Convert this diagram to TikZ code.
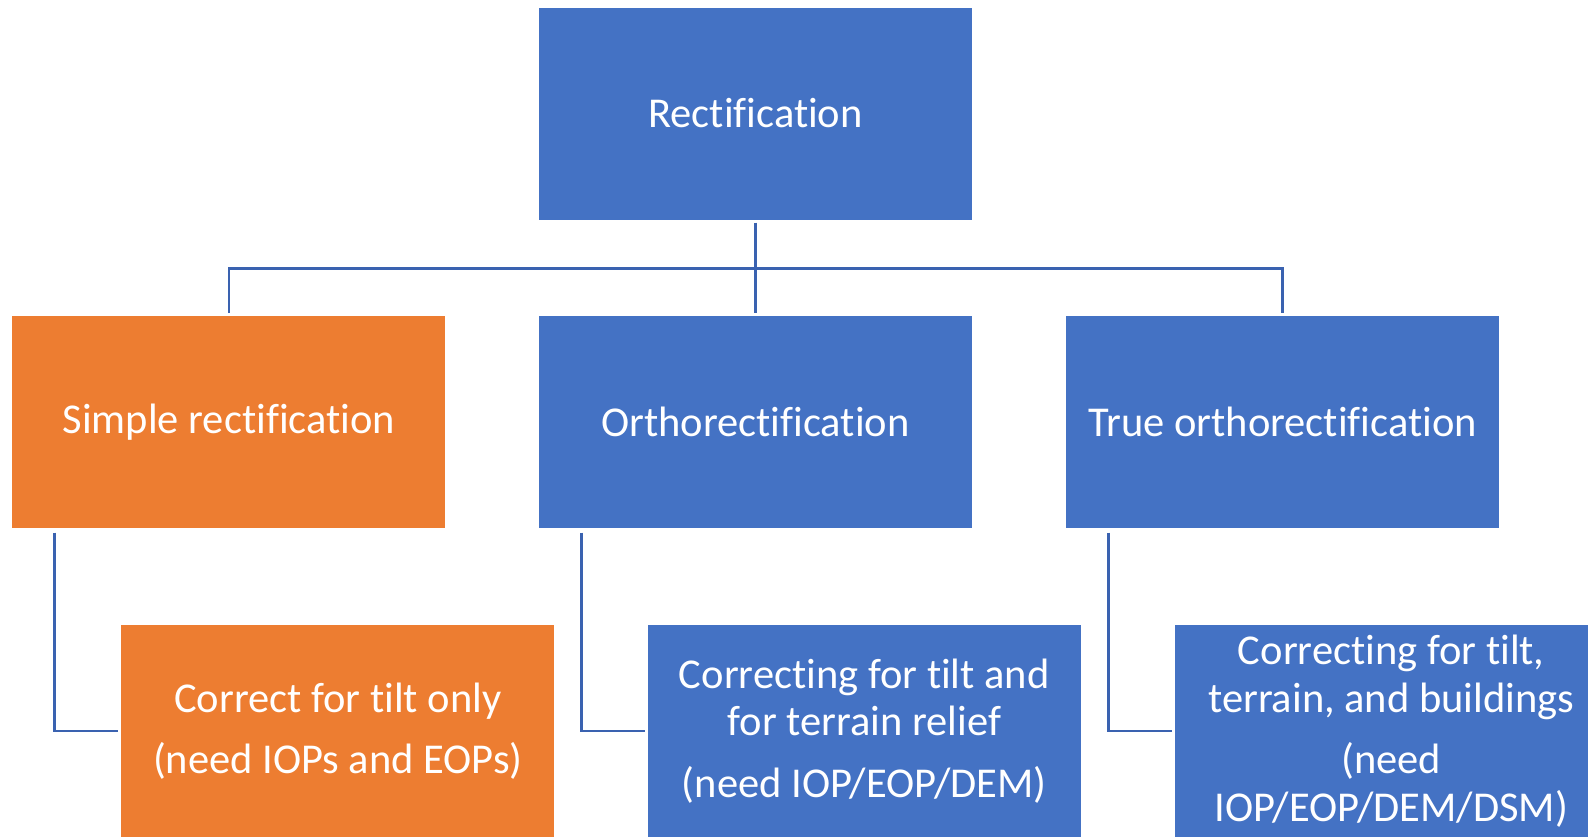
\documentclass[tikz,border=0pt]{standalone}
\usepackage{fontspec}
\setmainfont{Carlito}[Ligatures=NoCommon]
\usetikzlibrary{calc}
\definecolor{boxblue}{HTML}{4472C4}
\definecolor{boxorange}{HTML}{ED7D31}
\definecolor{lineblue}{HTML}{3A62B0}

\begin{document}
\begin{tikzpicture}[x=1pt,y=-1pt,
  box/.style={rectangle,fill=#1,text=white,align=center,inner sep=0pt,
    minimum width=433pt,minimum height=212pt,font=\fontsize{42.5}{47.5}\selectfont},
  conn/.style={draw=lineblue,line width=2.6pt}]
\clip (0,0) rectangle (1588,836);
% top
\node[box=boxblue] (rect) at (755.5,113.5) {Rectification};
% second row
\node[box=boxorange] (simple) at (228.9,422.3) {Simple rectification};
\node[box=boxblue] (ortho) at (755.5,422.3) {Orthorectification};
\node[box=boxblue] (trueortho) at (1282.6,422.3) {True orthorectification};
% third row
\node[box=boxorange] (tiltonly) at (337.8,731) {Correct for tilt only\\[14pt](need IOPs and EOPs)};
\node[box=boxblue] (terrain) at (864.3,731) {Correcting for tilt and\\for terrain relief\\[14pt](need IOP/EOP/DEM)};
\node[box=boxblue] (buildings) at (1391.3,731) {Correcting for tilt,\\terrain, and buildings\\[14pt](need\\IOP/EOP/DEM/DSM)};
% connectors
\coordinate (bus) at (755.5,268.4);
\draw[conn,shorten <=3pt,shorten >=3pt] (rect.south) -- (ortho.north);
\draw[conn,shorten <=3pt,shorten >=3pt] (simple.north) |- (bus) -| (trueortho.north);
\draw[conn,shorten <=4pt,shorten >=3pt] ([xshift=42.5pt]simple.south west) |- (tiltonly.west);
\draw[conn,shorten <=4pt,shorten >=3pt] ([xshift=42.5pt]ortho.south west) |- (terrain.west);
\draw[conn,shorten <=4pt,shorten >=3pt] ([xshift=42.5pt]trueortho.south west) |- (buildings.west);
\end{tikzpicture}
\end{document}
